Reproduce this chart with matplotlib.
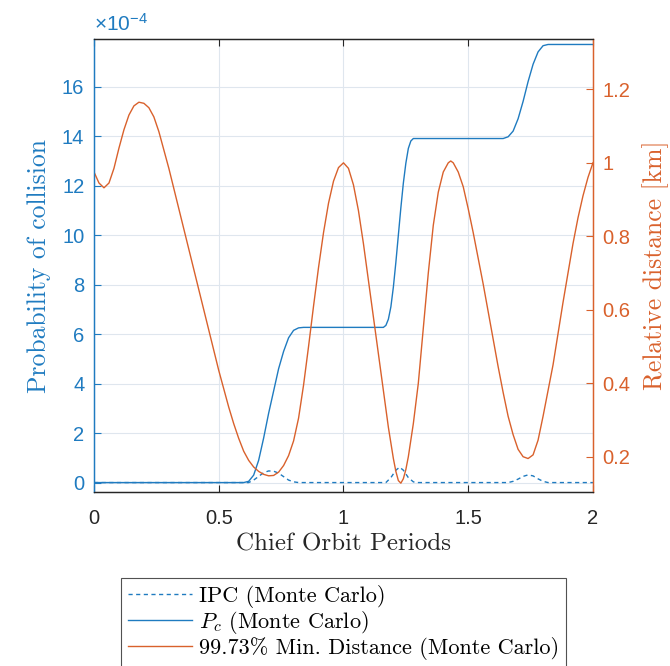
import matplotlib
matplotlib.use("Agg")
import matplotlib.pyplot as plt

plt.rcParams['mathtext.fontset'] = 'cm'
plt.rcParams['font.family'] = ['Liberation Sans', 'DejaVu Sans']

# probability of collision, in units of 1e-4
pc_t = [0.0, 0.60, 0.62, 0.64, 0.66, 0.68, 0.70, 0.72, 0.74, 0.76, 0.78, 0.80, 0.82, 0.84,
        1.16, 1.17, 1.18, 1.19, 1.20, 1.21, 1.22, 1.23, 1.24, 1.25, 1.26, 1.27, 1.28,
        1.64, 1.66, 1.68, 1.70, 1.72, 1.74, 1.76, 1.78, 1.80, 1.82, 2.0]
pc_val = [0.0, 0.0, 0.05, 0.3, 0.9, 1.8, 2.8, 3.7, 4.6, 5.3, 5.85, 6.15, 6.25, 6.27,
          6.27, 6.35, 6.6, 7.1, 7.9, 8.9, 10.0, 11.1, 12.1, 12.9, 13.5, 13.8, 13.9,
          13.9, 13.97, 14.2, 14.7, 15.4, 16.2, 16.9, 17.4, 17.65, 17.7, 17.7]

# instantaneous probability of collision, in units of 1e-4
ipc_t = [0.0, 0.62, 0.64, 0.66, 0.68, 0.70, 0.72, 0.74, 0.76, 0.78, 0.80, 0.82,
         1.17, 1.19, 1.21, 1.225, 1.24, 1.26, 1.28, 1.29,
         1.66, 1.68, 1.70, 1.72, 1.74, 1.76, 1.78, 1.80, 1.82, 2.0]
ipc_val = [0.0, 0.0, 0.1, 0.25, 0.4, 0.47, 0.46, 0.38, 0.24, 0.1, 0.03, 0.0,
           0.0, 0.2, 0.5, 0.62, 0.5, 0.2, 0.03, 0.0,
           0.0, 0.05, 0.14, 0.25, 0.31, 0.27, 0.15, 0.05, 0.0, 0.0]

# 99.73% minimum distance [km]
dist_t = [0.00, 0.02, 0.04, 0.06, 0.08, 0.10, 0.12, 0.14, 0.16, 0.18, 0.20, 0.22, 0.24,
          0.26, 0.28, 0.30, 0.32, 0.34, 0.36, 0.38, 0.40, 0.42, 0.44, 0.46, 0.48, 0.50,
          0.52, 0.54, 0.56, 0.58, 0.60, 0.62, 0.64, 0.66, 0.68, 0.70, 0.72, 0.74, 0.76,
          0.78, 0.80, 0.82, 0.84, 0.86, 0.88, 0.90, 0.92, 0.94, 0.96, 0.98, 1.00, 1.02,
          1.04, 1.06, 1.08, 1.10, 1.12, 1.14, 1.16, 1.18, 1.20, 1.21, 1.22, 1.23, 1.24,
          1.25, 1.26, 1.28, 1.30, 1.32, 1.34, 1.36, 1.38, 1.40, 1.42, 1.43, 1.44, 1.46,
          1.48, 1.50, 1.52, 1.54, 1.56, 1.58, 1.60, 1.62, 1.64, 1.66, 1.68, 1.70, 1.72,
          1.74, 1.76, 1.78, 1.80, 1.82, 1.84, 1.86, 1.88, 1.90, 1.92, 1.94, 1.96, 1.98, 2.00]
dist_val = [0.975, 0.945, 0.932, 0.945, 0.985, 1.04, 1.09, 1.13, 1.155, 1.165, 1.162, 1.15, 1.125,
            1.085, 1.035, 0.985, 0.93, 0.875, 0.82, 0.765, 0.71, 0.655, 0.60, 0.545, 0.49, 0.435,
            0.385, 0.335, 0.29, 0.25, 0.215, 0.19, 0.172, 0.16, 0.152, 0.148, 0.149, 0.158, 0.176,
            0.203, 0.243, 0.305, 0.395, 0.50, 0.61, 0.715, 0.81, 0.89, 0.95, 0.987, 1.0, 0.985,
            0.94, 0.87, 0.78, 0.68, 0.58, 0.48, 0.38, 0.28, 0.195, 0.16, 0.135, 0.128, 0.14,
            0.165, 0.20, 0.29, 0.40, 0.55, 0.70, 0.83, 0.92, 0.975, 1.0, 1.005, 1.0, 0.975,
            0.935, 0.875, 0.81, 0.74, 0.67, 0.595, 0.52, 0.445, 0.375, 0.31, 0.26, 0.22, 0.20,
            0.195, 0.205, 0.245, 0.31, 0.38, 0.45, 0.535, 0.62, 0.70, 0.78, 0.85, 0.91, 0.96, 1.0]

x_ticks = [0, 0.5, 1, 1.5, 2]
x_labels = ['0', '0.5', '1', '1.5', '2']
left_ticks = [0, 2, 4, 6, 8, 10, 12, 14, 16]
right_ticks = [0.2, 0.4, 0.6, 0.8, 1.0, 1.2]
right_labels = ['0.2', '0.4', '0.6', '0.8', '1', '1.2']

blue = '#1f7bc0'
orange = '#d9612c'
dark = '#262626'

fig = plt.figure(figsize=(6.7, 6.66), dpi=100)
ax = fig.add_axes([0.1403, 0.2613, 0.7447, 0.6801])
ax2 = ax.twinx()

l1, = ax.plot(ipc_t, ipc_val, color=blue, lw=1.0, ls=(0, (3, 2.5)))
l2, = ax.plot(pc_t, pc_val, color=blue, lw=1.0)
l3, = ax2.plot(dist_t, dist_val, color=orange, lw=1.0)

ax.set_xlim(0, 2)
ax.set_ylim(-0.38, 17.92)
ax2.set_ylim(0.104, 1.337)

ax.set_xticks(x_ticks)
ax.set_xticklabels(x_labels)
ax.set_yticks(left_ticks)
ax2.set_yticks(right_ticks)
ax2.set_yticklabels(right_labels)

ax.grid(True, color='#dfe6ee', lw=0.8)
ax.set_axisbelow(True)

ax.tick_params(axis='x', direction='in', top=True, length=5, labelsize=14.5,
               colors=dark, pad=12)
ax.tick_params(axis='y', direction='in', length=5, labelsize=14.5, colors=blue, pad=7)
ax2.tick_params(axis='y', direction='in', length=5, labelsize=14.5, colors=orange, pad=7)

for a in (ax, ax2):
    a.spines['top'].set_color(dark)
    a.spines['bottom'].set_color(dark)
    a.spines['left'].set_color(blue)
    a.spines['right'].set_color(orange)
    for s in a.spines.values():
        s.set_linewidth(0.9)

ax.set_xlabel('Chief Orbit Periods', family='cmr10', fontsize=18, color=dark, labelpad=4)
ax.set_ylabel('Probability of collision', family='cmr10', fontsize=18.5, color=blue, labelpad=8)
ax2.set_ylabel('Relative distance [km]', family='cmr10', fontsize=18.5, color=orange, labelpad=8)

ax.text(0.0, 1.01, r'$\mathregular{\times10^{-4}}$', transform=ax.transAxes,
        fontsize=15, color=blue, ha='left', va='bottom')

leg = fig.legend([l1, l2, l3],
                 ['IPC (Monte Carlo)', r'$P_c$ (Monte Carlo)',
                  '99.73% Min. Distance (Monte Carlo)'],
                 loc='upper center', bbox_to_anchor=(0.5127, 0.1321),
                 prop={'family': 'cmr10', 'size': 16}, frameon=True, fancybox=False,
                 edgecolor=dark, handlelength=2.9, handletextpad=0.3,
                 labelspacing=0.05, borderpad=0.3, borderaxespad=0)
leg.get_frame().set_linewidth(0.8)

fig.savefig('out.png', dpi=100)
